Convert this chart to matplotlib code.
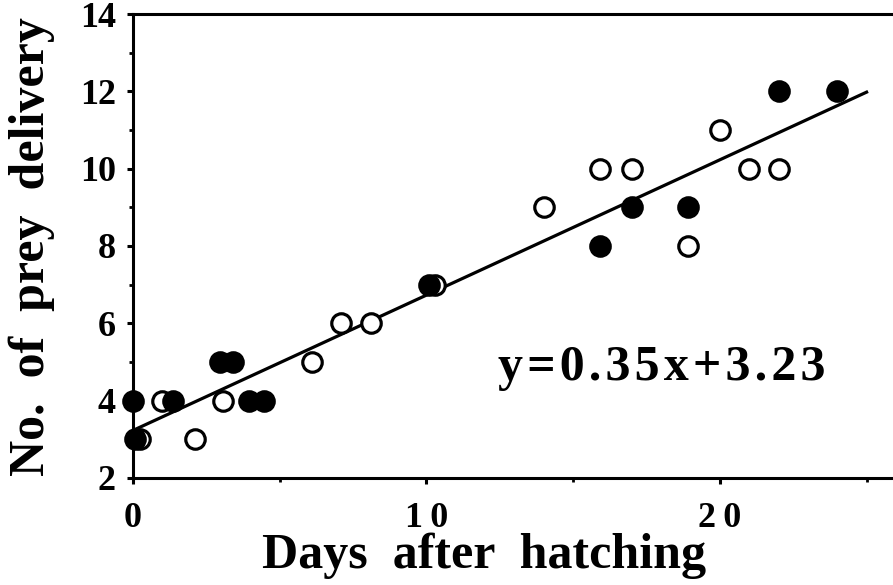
import matplotlib
matplotlib.use("Agg")
import matplotlib.pyplot as plt
from matplotlib.ticker import MultipleLocator, FuncFormatter

# open circles
open_days = [0.25, 1.0, 2.1, 3.05, 6.1, 7.1, 8.1, 10.3, 14.0, 15.9, 17.0, 18.9, 20.0, 21.0, 22.0]
open_prey = [3, 4, 3, 4, 5, 6, 6, 7, 9, 10, 10, 8, 11, 10, 10]

# filled circles
filled_days = [0.0, 0.05, 1.35, 2.95, 3.4, 3.95, 4.45, 10.1, 15.9, 17.0, 18.9, 22.0, 24.0]
filled_prey = [4, 3, 4, 5, 5, 4, 4, 7, 8, 9, 9, 12, 12]

slope = 0.35
intercept = 3.23
fit_x = [0, 25]

plt.rcParams['font.family'] = ['Liberation Serif', 'DejaVu Serif']
plt.rcParams['font.weight'] = 'bold'

fig = plt.figure(figsize=(8.93, 5.85), dpi=100)
ax = fig.add_axes([0.149, 0.183, 0.851, 0.793])

fit_y = [slope * v + intercept for v in fit_x]
ax.plot(fit_x, fit_y, color='black', lw=2.3, zorder=2)

ax.plot(open_days, open_prey, 'o', ms=14, mfc='white', mec='black', mew=2.3,
        clip_on=False, zorder=3)
ax.plot(filled_days, filled_prey, 'o', ms=14, mfc='black', mec='black', mew=2.3,
        clip_on=False, zorder=4)

ax.set_xlim(0, 25.9)
ax.set_ylim(2, 14)
ax.xaxis.set_major_locator(MultipleLocator(10))
ax.xaxis.set_minor_locator(MultipleLocator(5))
ax.yaxis.set_major_locator(MultipleLocator(2))
ax.yaxis.set_minor_locator(MultipleLocator(1))

# spaced-out digits on the day axis
ax.xaxis.set_major_formatter(FuncFormatter(lambda v, p: '\u2009'.join(str(int(v)))))

ax.spines['right'].set_visible(False)
for s in ['left', 'bottom', 'top']:
    ax.spines[s].set_linewidth(2.2)

ax.tick_params(which='major', direction='out', length=4.5, width=2.2, labelsize=26)
ax.tick_params(which='minor', direction='out', length=3, width=2.0)
ax.tick_params(axis='x', which='major', pad=13)
ax.tick_params(axis='y', which='major', pad=8)
ax.tick_params(axis='x', top=False, which='both')

hs = '\u200a'
fig.text(0.542, 0.029, 'Days  after  hatching', fontsize=36, fontweight='bold',
         ha='center', va='baseline')
fig.text(0.036, 0.578, 'No.  of  prey  delivery', fontsize=36, fontweight='bold',
         rotation=90, ha='center', va='center')

ax.text(12.45, 4.85, hs.join('y=0.35x+3.23'), fontsize=36, fontweight='bold',
        ha='left', va='center')

fig.savefig('out.png', dpi=100)
